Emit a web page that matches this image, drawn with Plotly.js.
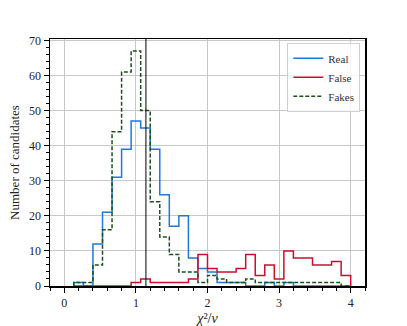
<!DOCTYPE html>
<html>
<head>
<meta charset="utf-8">
<script src="https://cdn.plot.ly/plotly-3.0.1.min.js"></script>
<style>
  html, body { margin: 0; padding: 0; background: #fff; }
  #chart { width: 407px; height: 326px; }
</style>
</head>
<body>
<div id="chart"></div>
<script>
// histogram bins: 29 bins of width 4/30 from 0.133 to 4.0
const binStart = 4 / 30;
const binWidth = 4 / 30;

// counts per bin
const realCounts = [1, 0, 12, 21, 31, 39, 47, 45, 39, 26, 17, 20, 8, 5, 4, 1, 1, 1, 0, 0, 1, 0, 1, 0, 0, 0, 0, 0, 0];
const falseCounts = [0, 0, 0, 0, 0, 0, 1, 2, 1, 1, 1, 1, 2, 9, 5, 4, 4, 5, 9, 3, 6, 2, 10, 8, 8, 6, 6, 7, 3];
const fakeCounts = [1, 1, 6, 16, 44, 61, 67, 50, 24, 14, 9, 4, 4, 1, 3, 2, 1, 1, 2, 1, 1, 1, 1, 1, 1, 1, 1, 1, 0];

// reduced chi-square cut marked by the vertical line
const chiCut = 1.14;

/*
Function: stepTrace()
Builds a matplotlib-like "step" histogram outline from the bin counts.
*/
function stepTrace(counts, name, color, dash) {
    const x = [binStart];
    const y = [0];
    for (let i = 0; i < counts.length; i++) {
        x.push(binStart + i * binWidth);
        y.push(counts[i]);
    }
    const lastEdge = binStart + counts.length * binWidth;
    x.push(lastEdge, lastEdge);
    y.push(counts[counts.length - 1], 0);
    return {
        x: x,
        y: y,
        type: 'scatter',
        mode: 'lines',
        name: name,
        line: { color: color, width: 1.5, shape: 'hv', dash: dash },
        hoverinfo: 'skip'
    };
}

const data = [
    stepTrace(realCounts, 'Real', '#1f77e0', 'solid'),
    stepTrace(falseCounts, 'False', '#c8102e', 'solid'),
    stepTrace(fakeCounts, 'Fakes', '#1f4f1f', '4px,2px')
];

const serif = 'Liberation Serif, DejaVu Serif, serif';

const layout = {
    width: 407,
    height: 326,
    margin: { l: 50, r: 42, t: 39, b: 40 },
    paper_bgcolor: '#fff',
    plot_bgcolor: '#fff',
    font: { family: serif, size: 12, color: '#222' },
    showlegend: true,
    legend: {
        x: 0.985, y: 0.985, xanchor: 'right', yanchor: 'top',
        bgcolor: 'rgba(255,255,255,0.8)',
        bordercolor: '#d0d0d0', borderwidth: 1,
        font: { family: serif, size: 11, color: '#333' },
        itemwidth: 30,
        tracegroupgap: 0
    },
    xaxis: {
        range: [-0.2, 4.2],
        dtick: 1,
        tick0: 0,
        ticks: 'outside',
        ticklen: 5,
        tickcolor: '#000',
        tickfont: { family: serif, size: 12, color: '#222' },
        showgrid: true,
        gridcolor: '#c8c8c8',
        gridwidth: 1,
        zeroline: false,
        showline: true,
        linecolor: '#000',
        linewidth: 1.5,
        mirror: true,
        minor: { dtick: 0.2, tick0: 0, ticks: 'outside', ticklen: 3, tickcolor: '#000', showgrid: false },
        title: { text: '<i>χ</i>²/<i>ν</i>', font: { family: serif, size: 14, color: '#222' }, standoff: 4 }
    },
    yaxis: {
        range: [0, 70.4],
        dtick: 10,
        ticks: 'outside',
        ticklen: 5,
        tickcolor: '#000',
        tickfont: { family: serif, size: 12, color: '#222' },
        showgrid: true,
        gridcolor: '#c8c8c8',
        gridwidth: 1,
        zeroline: false,
        showline: true,
        linecolor: '#000',
        linewidth: 1.5,
        mirror: true,
        minor: { dtick: 2, ticks: 'outside', ticklen: 3, tickcolor: '#000', showgrid: false },
        title: { text: 'Number of candidates', font: { family: serif, size: 13, color: '#222' }, standoff: 6 }
    },
    shapes: [{
        type: 'line',
        xref: 'x', yref: 'paper',
        x0: chiCut, x1: chiCut, y0: 0, y1: 1,
        line: { color: '#000', width: 1 }
    }]
};

Plotly.newPlot('chart', data, layout, { displayModeBar: false, staticPlot: true });
</script>
</body>
</html>
